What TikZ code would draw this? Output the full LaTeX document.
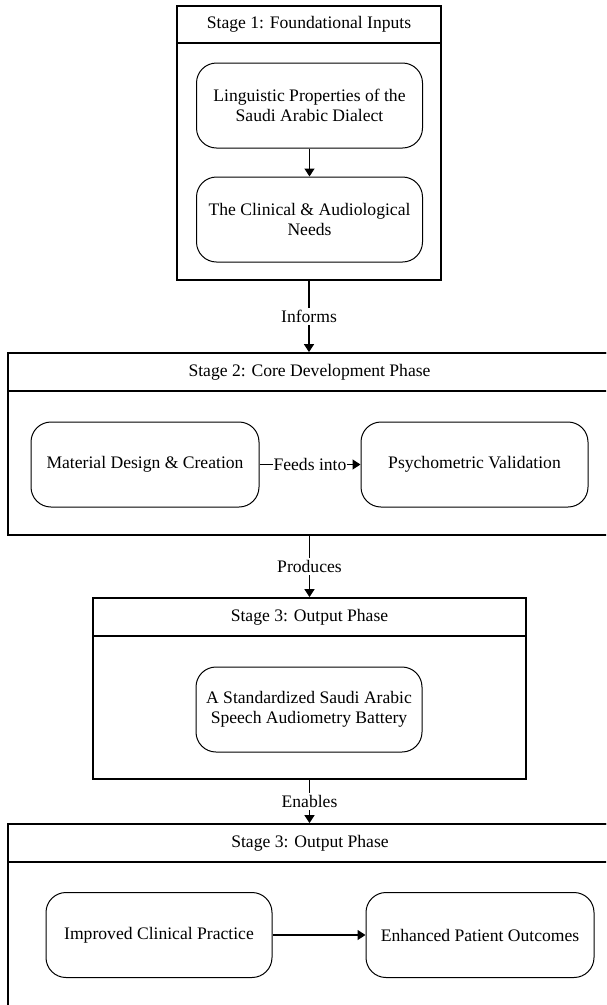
\documentclass[tikz,border=0pt]{standalone}
\usepackage{fontspec}
\setmainfont{Liberation Serif}
\usetikzlibrary{arrows.meta,positioning}
\tikzset{
  stagebox/.style={draw=black,line width=1.8pt,rectangle,inner sep=0pt},
  titlebox/.style={draw=black,line width=1.8pt,rectangle,inner sep=0pt,font=\fontsize{17.6}{20}\selectfont},
  itembox/.style={draw=black,line width=1pt,rounded corners=20pt,minimum width=226pt,minimum height=85pt,align=center,inner sep=0pt,font=\fontsize{17.6}{20.5}\selectfont},
  conn/.style={draw=black,line width=1.3pt,-{Triangle[length=8pt,width=10pt]}},
  lbl/.style={fill=white,inner sep=2pt,font=\fontsize{17.6}{20}\selectfont}
}
\begin{document}
\begin{tikzpicture}[x=1pt,y=-1pt]
\path[use as bounding box] (0,0) rectangle (606,1005);
\clip (0,0) rectangle (606,1005);
% Stage 1
\node[stagebox,minimum width=264pt,minimum height=274pt] (s1) at (309,143) {};
\node[titlebox,minimum width=264pt,minimum height=37pt,anchor=north] (t1) at (s1.north) {Stage 1: Foundational Inputs};
\node[itembox] (a1) at (309.5,105.5) {Linguistic Properties of the\\Saudi Arabic Dialect};
\node[itembox] (b1) at (309.5,219.5) {The Clinical \& Audiological\\Needs};
% Stage 2
\node[stagebox,minimum width=603pt,minimum height=182pt] (s2) at (309.5,444) {};
\node[titlebox,minimum width=603pt,minimum height=38pt,anchor=north] (t2) at (s2.north) {Stage 2: Core Development Phase};
\node[itembox,minimum width=228pt] (a2) at (145,464.5) {Material Design \& Creation};
\node[itembox,minimum width=227pt] (b2) at (474.5,464.5) {Psychometric Validation};
% Stage 3
\node[stagebox,minimum width=433pt,minimum height=181pt] (s3) at (309.5,688.5) {};
\node[titlebox,minimum width=433pt,minimum height=38pt,anchor=north] (t3) at (s3.north) {Stage 3: Output Phase};
\node[itembox] (a3) at (309,709.5) {A Standardized Saudi Arabic\\Speech Audiometry Battery};
% Stage 4
\node[stagebox,minimum width=604pt,minimum height=190pt] (s4) at (310,919) {};
\node[titlebox,minimum width=604pt,minimum height=38pt,anchor=north] (t4) at (s4.north) {Stage 3: Output Phase};
\node[itembox] (a4) at (159,935) {Improved Clinical Practice};
\node[itembox,minimum width=228pt] (b4) at (480,935) {Enhanced Patient Outcomes};
% connectors
\draw[conn] (a1) -- (b1);
\draw[conn] (s1.south) -- node[lbl] {Informs} (s1.south |- s2.north);
\draw[conn] (s2.south -| s3.north) -- node[lbl] {Produces} (s3.north);
\draw[conn] (s3.south) -- node[lbl] {Enables} (s3.south |- s4.north);
\draw[conn] (a2) -- node[lbl,inner sep=1pt] {Feeds into} (b2);
\draw[conn] (a4) -- (b4);
\end{tikzpicture}
\end{document}
